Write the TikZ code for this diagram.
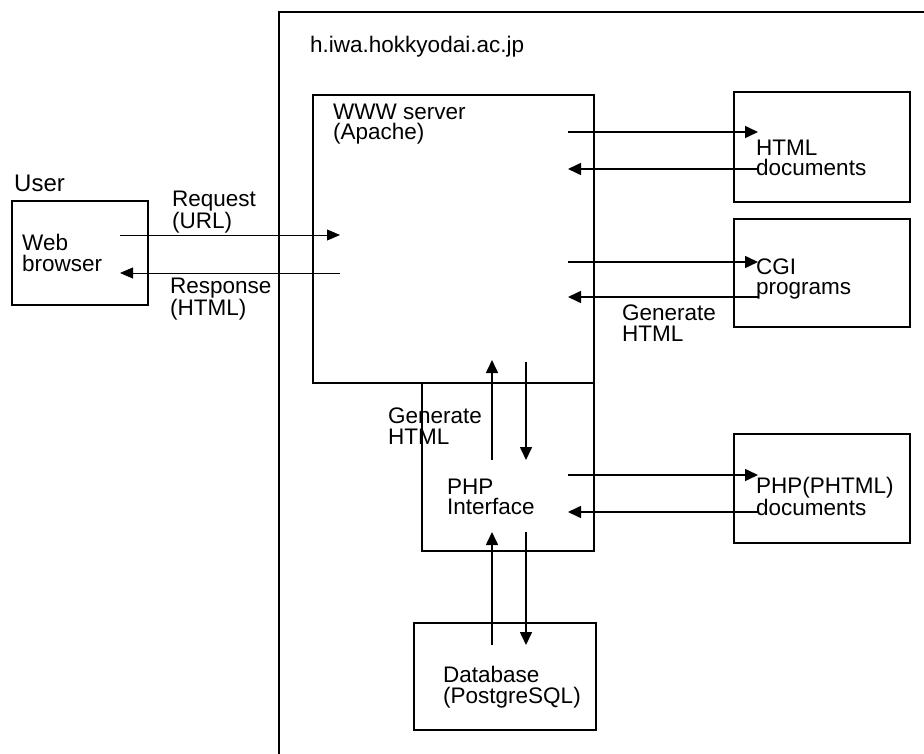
\documentclass[tikz,border=0pt]{standalone}
\usepackage{fontspec}
\setmainfont{Liberation Sans}
\usetikzlibrary{arrows.meta}

\begin{document}
\begin{tikzpicture}[x=1pt,y=-1pt]
            \useasboundingbox (0,0) rectangle (924,754);

            % host frame, cut by the page on the right and bottom
            \coordinate (hostbl) at (279,754);
            \coordinate (hosttr) at (924,12);
            \draw [line width=1.6pt] (hostbl) |- (hosttr);

            \begin{scope}[every node/.style={draw, rectangle, line width=1.4pt, inner sep=0}]
                \node [minimum width=136pt, minimum height=104pt] (browser) at (80,253) {};
                \node [minimum width=281pt, minimum height=288pt] (www) at (453.5,239) {};
                \node [minimum width=172pt, minimum height=168pt] (php) at (508,467) {};
                \node [minimum width=176pt, minimum height=110pt] (html) at (822,147) {};
                \node [minimum width=176pt, minimum height=108pt] (cgi) at (822,273) {};
                \node [minimum width=176pt, minimum height=109pt] (phtml) at (822,488.5) {};
                \node [minimum width=182pt, minimum height=107pt] (db) at (505,676.5) {};
            \end{scope}

            \begin{scope}[every node/.style={anchor=west, align=left, inner sep=0, font=\fontsize{22.5}{20.5}\selectfont}]
                \node (user) at (14,183) {\fontsize{24}{24}\selectfont User};
                \node (browsertxt) at (22,253) {Web\\browser};
                \node (reqtxt) at (172,212) {Request\\(URL)};
                \node (resptxt) at (170,299) {Response\\(HTML)};
                \node (host) at (310,47) {h.iwa.hokkyodai.ac.jp};
                \node (wwwtxt) at (333,124) {WWW server\\(Apache)};
                \node (htmltxt) at (756,158) {HTML\\documents};
                \node (cgitxt) at (756,279) {CGI\\programs};
                \node (gen1) at (622,323) {Generate\\HTML};
                \node (gen2) at (388,426) {Generate\\HTML};
                \node (phptxt) at (447,497) {PHP\\Interface};
                \node (phtmltxt) at (756,496) {PHP(PHTML)\\documents};
                \node (dbtxt) at (443,687) {Database\\(PostgreSQL)};
            \end{scope}

            % arrow ends
            \coordinate (req0) at (120,235);
            \coordinate (req1) at (340,235);
            \coordinate (resp0) at (340,273);
            \coordinate (resp1) at (120,273);
            \coordinate (h0) at (568,132);
            \coordinate (h1) at (758,132);
            \coordinate (h2) at (758,169);
            \coordinate (h3) at (568,169);
            \coordinate (c0) at (568,262);
            \coordinate (c1) at (758,262);
            \coordinate (c2) at (758,297);
            \coordinate (c3) at (568,297);
            \coordinate (p0) at (568,475);
            \coordinate (p1) at (758,475);
            \coordinate (p2) at (758,512);
            \coordinate (p3) at (568,512);
            \coordinate (u0) at (492,460);
            \coordinate (u1) at (492,360);
            \coordinate (u2) at (526,362);
            \coordinate (u3) at (526,460);
            \coordinate (d0) at (492,645);
            \coordinate (d1) at (492,532);
            \coordinate (d2) at (526,532);
            \coordinate (d3) at (526,645);

            \begin{scope}[every edge/.style={draw=black, line width=0.8pt}]
                \path [-{Triangle[length=13pt, width=11pt]}] (req0) edge (req1);
                \path [-{Triangle[length=13pt, width=11pt]}] (resp0) edge (resp1);
            \end{scope}

            \begin{scope}[every edge/.style={draw=black, line width=1.6pt}]
                \path [-{Triangle[length=13pt, width=12pt]}] (h0) edge (h1);
                \path [-{Triangle[length=13pt, width=12pt]}] (h2) edge (h3);
                \path [-{Triangle[length=13pt, width=12pt]}] (c0) edge (c1);
                \path [-{Triangle[length=13pt, width=12pt]}] (c2) edge (c3);
                \path [-{Triangle[length=13pt, width=12pt]}] (p0) edge (p1);
                \path [-{Triangle[length=13pt, width=12pt]}] (p2) edge (p3);
                \path [-{Triangle[length=13pt, width=12pt]}] (u0) edge (u1);
                \path [-{Triangle[length=13pt, width=12pt]}] (u2) edge (u3);
                \path [-{Triangle[length=13pt, width=12pt]}] (d0) edge (d1);
                \path [-{Triangle[length=13pt, width=12pt]}] (d2) edge (d3);
            \end{scope}
        \end{tikzpicture}
\end{document}
